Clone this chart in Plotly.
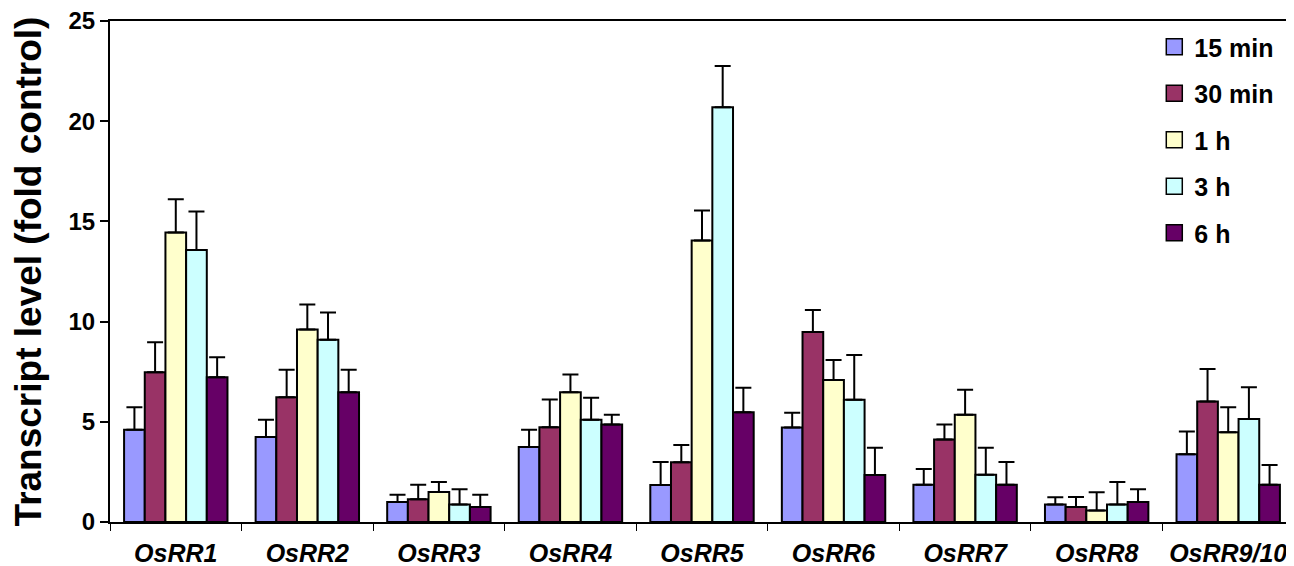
import plotly.graph_objects as go

genes = ["OsRR1", "OsRR2", "OsRR3", "OsRR4", "OsRR5", "OsRR6", "OsRR7", "OsRR8", "OsRR9/10"]
series_names = ["15 min", "30 min", "1 h", "3 h", "6 h"]

v_15min = [4.6, 4.24, 1.0, 3.74, 1.85, 4.72, 1.86, 0.87, 3.38]
v_30min = [7.47, 6.23, 1.13, 4.73, 2.98, 9.48, 4.12, 0.75, 6.01]
v_1h = [14.45, 9.6, 1.5, 6.48, 14.05, 7.08, 5.35, 0.58, 4.48]
v_3h = [13.57, 9.1, 0.87, 5.1, 20.7, 6.1, 2.36, 0.87, 5.14]
v_6h = [7.22, 6.48, 0.75, 4.87, 5.48, 2.35, 1.86, 1.0, 1.86]

e_15min = [5.73, 5.1, 1.36, 4.6, 2.99, 5.45, 2.64, 1.23, 4.51]
e_30min = [8.97, 7.6, 1.86, 6.11, 3.84, 10.58, 4.87, 1.25, 7.64]
e_1h = [16.1, 10.85, 1.99, 7.36, 15.55, 8.08, 6.6, 1.48, 5.72]
e_3h = [15.5, 10.46, 1.63, 6.2, 22.75, 8.33, 3.7, 1.99, 6.73]
e_6h = [8.22, 7.6, 1.36, 5.35, 6.7, 3.7, 2.99, 1.63, 2.85]

y_ticks = [0, 5, 10, 15, 20, 25]

values = [v_15min, v_30min, v_1h, v_3h, v_6h]
err_tops = [e_15min, e_30min, e_1h, e_3h, e_6h]
colors = ["#9999FF", "#993366", "#FFFFCC", "#CCFFFF", "#660066"]

FONT = "Liberation Sans, Arial, sans-serif"

fig = go.Figure()
for name, vals, tops, col in zip(series_names, values, err_tops, colors):
    fig.add_trace(go.Bar(
        x=genes, y=vals, name=name, legendgroup=name, showlegend=False,
        marker=dict(color=col, line=dict(color="black", width=2)),
        error_y=dict(type="data", symmetric=False,
                     array=[t - v for t, v in zip(tops, vals)],
                     arrayminus=[0] * len(vals),
                     color="black", thickness=2, width=8),
    ))

# legend entries (larger square swatches, like the original)
for name, col in zip(series_names, colors):
    fig.add_trace(go.Scatter(
        x=[None], y=[None], mode="markers", name=name, legendgroup=name,
        marker=dict(symbol="square", size=16, color=col,
                    line=dict(color="black", width=1.5)),
        showlegend=True, hoverinfo="skip",
    ))

fig.update_layout(
    width=1294, height=566,
    margin=dict(l=102, r=8, t=13, b=52),
    paper_bgcolor="white", plot_bgcolor="white",
    barmode="group", bargap=0.214, bargroupgap=0,
    font=dict(family=FONT, size=20, color="black"),
    showlegend=True,
    legend=dict(x=0.882, y=0.994, xanchor="left", yanchor="top",
                traceorder="grouped", tracegroupgap=11, itemsizing="trace",
                font=dict(family=FONT, size=25, color="black", weight="bold"),
                bgcolor="rgba(0,0,0,0)", itemwidth=30),
    xaxis=dict(showline=True, linecolor="black", linewidth=2, mirror=True,
               ticks="outside", ticklen=7, tickcolor="black", tickwidth=1,
               tickson="boundaries", showgrid=False, ticklabelstandoff=8,
               automargin=False,
               tickfont=dict(family=FONT, size=25, color="black", weight="bold", style="italic")),
    yaxis=dict(range=[0, 25], tickmode="array", tickvals=y_ticks,
               ticktext=[str(t) for t in y_ticks], ticklabeloverflow="allow",
               showline=True, linecolor="black", linewidth=2,
               ticks="outside", ticklen=8, tickcolor="black", tickwidth=2,
               showgrid=False, zeroline=False, automargin=False,
               tickfont=dict(family=FONT, size=24, color="black", weight="bold"),
               title=dict(text="Transcript level (fold control)", standoff=17,
                          font=dict(family=FONT, size=37, color="black", weight="bold"))),
)

fig.write_html("out.html")
